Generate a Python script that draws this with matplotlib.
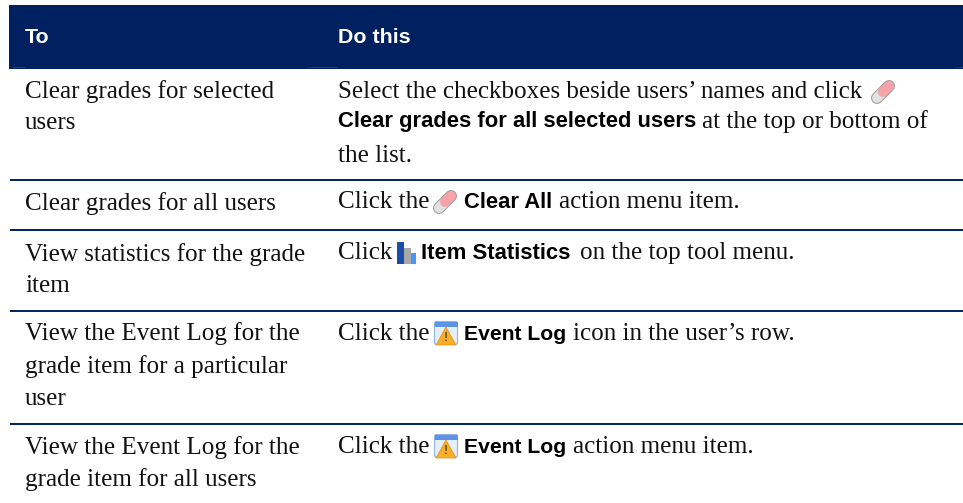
import matplotlib
matplotlib.use('Agg')
import matplotlib.pyplot as plt
from matplotlib.patches import Rectangle, Polygon, FancyBboxPatch

# table content
headers = ['To', 'Do this']
left_col = [
    ['Clear grades for selected', 'users'],
    ['Clear grades for all users'],
    ['View statistics for the grade', 'item'],
    ['View the Event Log for the', 'grade item for a particular', 'user'],
    ['View the Event Log for the', 'grade item for all users'],
]
rule_y = [180, 230, 311, 424]
left_y = [98, 129, 210, 261, 292, 340, 373, 405, 454, 486]

navy = '#002060'
serif = 'Liberation Serif'
sans = 'Liberation Sans'
fs = 18.1
bfs = 15.8

fig = plt.figure(figsize=(9.63, 5.03), dpi=100)
ax = fig.add_axes([0, 0, 1, 1])
ax.set_xlim(0, 963)
ax.set_ylim(503, 0)
ax.axis('off')

# header band
ax.add_patch(Rectangle((9, 5), 954, 64, fc=navy, ec='none'))
ax.text(25, 43, headers[0], color='white', family=sans, weight='bold', fontsize=15.4, va='baseline')
ax.text(338, 43, headers[1], color='white', family=sans, weight='bold', fontsize=15.4, va='baseline')
# faint scan marks left in the header band
for x0, x1 in [(12, 25), (307, 337), (955, 963)]:
    ax.plot([x0, x1], [66.5, 66.5], color='#2a3f78', lw=0.6, solid_capstyle='butt')

for y in rule_y:
    ax.plot([10, 963], [y, y], color=navy, lw=1.4, solid_capstyle='butt')

# left column
lines = [l for row in left_col for l in row]
for l, y in zip(lines, left_y):
    ax.text(25, y, l, family=serif, fontsize=fs, color='#111111', va='baseline')


def eraser(x, y):
    ax.plot([x + 6, x + 18], [y + 18, y + 6], color='#9a9a9a', lw=8.6, solid_capstyle='round')
    ax.plot([x + 6, x + 12], [y + 18, y + 12], color='#e2e2e2', lw=7.2, solid_capstyle='round')
    ax.plot([x + 12, x + 18], [y + 12, y + 6], color='#f7a3a8', lw=7.2, solid_capstyle='round')


def bars(x, y):
    ax.add_patch(Rectangle((x, y), 6.5, 22, fc='#1c4ea8', ec='none'))
    ax.add_patch(Rectangle((x + 7, y + 6), 6.5, 16, fc='#a8a8a8', ec='none'))
    ax.add_patch(Rectangle((x + 14, y + 11), 4.5, 11, fc='#4c95f5', ec='none'))


def log_icon(x, y):
    ax.add_patch(FancyBboxPatch((x + 0.5, y + 0.5), 23, 23, boxstyle='round,pad=0,rounding_size=2',
                                fc='#e6eefb', ec='#8fb4ea', lw=0.8))
    ax.add_patch(Rectangle((x + 0.5, y + 0.5), 23, 5, fc='#5b93e6', ec='none'))
    ax.add_patch(Polygon([(x + 12, y + 6), (x + 22, y + 24), (x + 2, y + 24)], fc='#f9ae2a', ec='#e0900f', lw=0.5))
    ax.text(x + 12, y + 17, '!', fontsize=9, color='#665522', ha='center', va='center', family=sans, weight='bold')


def rtext(x, y, s):
    ax.text(x, y, s, family=serif, fontsize=fs, color='#111111', va='baseline')


def btext(x, y, s, size=bfs):
    ax.text(x, y, s, family=sans, fontsize=size, weight='bold', color='black', va='baseline')


rtext(338, 98, 'Select the checkboxes beside users\u2019 names and click')
eraser(871, 80)
btext(338, 127, 'Clear grades for all selected users')
rtext(702, 128, 'at the top or bottom of')
rtext(338, 162, 'the list.')

rtext(338, 208, 'Click the')
eraser(433, 190)
btext(464, 208, 'Clear All')
rtext(559, 208, 'action menu item.')

rtext(338, 259, 'Click')
bars(397, 242)
btext(421, 259, 'Item Statistics')
rtext(580, 259, 'on the top tool menu.')

rtext(338, 340, 'Click the')
log_icon(434, 321)
btext(464, 340, 'Event Log', 15.2)
rtext(573, 340, 'icon in the user\u2019s row.')

rtext(338, 453, 'Click the')
log_icon(434, 434)
btext(464, 453, 'Event Log', 15.2)
rtext(573, 453, 'action menu item.')

fig.savefig('out.png', dpi=100)
